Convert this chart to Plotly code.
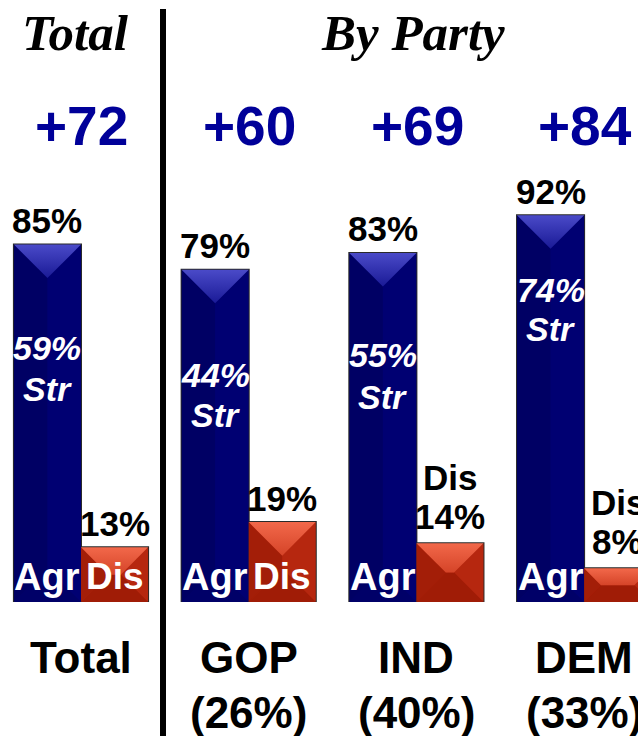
import plotly.graph_objects as go

# ---------------- data ----------------
groups = ["Total", "GOP", "IND", "DEM"]
group_sub = ["", "(26%)", "(40%)", "(33%)"]
agree = [85, 79, 83, 92]
disagree = [13, 19, 14, 8]
strong = [59, 44, 55, 74]
net = [72, 60, 69, 84]
headers = ["Total", "By Party"]

# ---------------- layout constants ----------------
W, H = 638, 736
BASE_PX = 602            # pixel row of the bar baseline
PX_X = 167.7             # pixels per group unit
PX_Y = 4.205             # pixels per percent
X0 = -81 / PX_X
X1 = X0 + W / PX_X
Y1 = BASE_PX / PX_Y
HALF = 0.2               # half bar width (group units)
dis_inside = [True, True, False, False]
str_label_px = [(347.5, 388.5), (375, 415), (355, 397), (289.5, 328.5)]

SANS = "Liberation Sans, Arial, sans-serif"
SERIF = "Liberation Serif, Times New Roman, serif"


def py_paper(py):
    return (BASE_PX - py) / BASE_PX


def gx_paper(gx):
    return (gx - X0) / (X1 - X0)


fig = go.Figure()

x_agr = [i - HALF for i in range(len(groups))]
x_dis = [i + HALF for i in range(len(groups))]

# flat bar bodies
fig.add_trace(go.Bar(x=x_agr, y=agree, width=2 * HALF, marker=dict(color="#000070", line=dict(width=0)),
                     hoverinfo="skip"))
fig.add_trace(go.Bar(x=x_dis, y=disagree, width=2 * HALF, marker=dict(color="#b0230c", line=dict(width=0)),
                     hoverinfo="skip"))

pal = {
    "blue": dict(top=["#1a1a96", "#4a4ac8"], left="#000064", right="#000072", bottom="#000068"),
    "red": dict(top=["#d54428", "#f2684a"], left="#a31e08", right="#b6270f", bottom="#a01c06"),
}


def bevel(xc, v, colors):
    a_px = HALF * PX_X
    h_px = v * PX_Y
    d_px = min(a_px, h_px / 2)
    d = d_px / PX_Y
    iw = (a_px - d_px) / PX_X
    xl, xr = xc - HALF, xc + HALF
    polys = [
        ("left", [xl, xc - iw, xc - iw, xl, xl], [v, v - d, d, 0, v]),
        ("right", [xr, xc + iw, xc + iw, xr, xr], [v, v - d, d, 0, v]),
        ("bottom", [xl, xr, xc + iw, xc - iw, xl], [0, 0, d, d, 0]),
    ]
    for name, xs, ys in polys:
        fig.add_trace(go.Scatter(x=xs, y=ys, fill="toself", fillcolor=colors[name], mode="lines",
                                 line=dict(width=0), hoverinfo="skip"))
    fig.add_trace(go.Scatter(x=[xl, xr, xc + iw, xc - iw, xl], y=[v, v, v - d, v - d, v], fill="toself",
                             fillgradient=dict(type="vertical",
                                               colorscale=[[0, colors["top"][0]], [1, colors["top"][1]]]),
                             mode="lines", line=dict(width=0), hoverinfo="skip"))


for i in range(len(groups)):
    bevel(x_agr[i], agree[i], pal["blue"])
    bevel(x_dis[i], disagree[i], pal["red"])

# outlines
fig.add_trace(go.Bar(x=x_agr, y=agree, width=2 * HALF,
                     marker=dict(color="rgba(0,0,0,0)", line=dict(width=2, color="#2a2a2a")), hoverinfo="skip"))
fig.add_trace(go.Bar(x=x_dis, y=disagree, width=2 * HALF,
                     marker=dict(color="rgba(0,0,0,0)", line=dict(width=2, color="#2a2a2a")), hoverinfo="skip"))

ann = []
# headers
ann.append(dict(x=75.5 / W, y=py_paper(33), xref="paper", yref="paper", text="<b><i>%s</i></b>" % headers[0],
                font=dict(family=SERIF, size=51, color="black")))
ann.append(dict(x=412.5 / W, y=py_paper(33), xref="paper", yref="paper", text="<b><i>%s</i></b>" % headers[1],
                font=dict(family=SERIF, size=51, color="black")))

for i in range(len(groups)):
    # net
    ann.append(dict(x=i + 0.005, y=(BASE_PX - 125.5) / PX_Y, text="<b>+%d</b>" % net[i],
                    font=dict(family=SANS, size=55, color="#000099")))
    # agree value
    ann.append(dict(x=x_agr[i], y=agree[i] + 24 / PX_Y, text="<b>%d%%</b>" % agree[i],
                    font=dict(family=SANS, size=35, color="black")))
    # disagree value
    if dis_inside[i]:
        ann.append(dict(x=x_dis[i], y=disagree[i] + 24 / PX_Y, text="<b>%d%%</b>" % disagree[i],
                        font=dict(family=SANS, size=35, color="black")))
        ann.append(dict(x=x_dis[i], y=(BASE_PX - 576.5) / PX_Y, text="<b>Dis</b>",
                        font=dict(family=SANS, size=37, color="white")))
    else:
        ann.append(dict(x=x_dis[i], y=disagree[i] + 27 / PX_Y, text="<b>%d%%</b>" % disagree[i],
                        font=dict(family=SANS, size=35, color="black")))
        ann.append(dict(x=x_dis[i], y=disagree[i] + 66 / PX_Y, text="<b>Dis</b>",
                        font=dict(family=SANS, size=35, color="black")))
    # inside Agr
    ann.append(dict(x=x_agr[i], y=(BASE_PX - 576.5) / PX_Y, text="<b>Agr</b>",
                    font=dict(family=SANS, size=38, color="white")))
    # strong
    p1, p2 = str_label_px[i]
    ann.append(dict(x=x_agr[i], y=(BASE_PX - p1) / PX_Y, text="<b><i>%d%%</i></b>" % strong[i],
                    font=dict(family=SANS, size=34, color="white")))
    ann.append(dict(x=x_agr[i], y=(BASE_PX - p2) / PX_Y, text="<b><i>Str</i></b>",
                    font=dict(family=SANS, size=34, color="white")))
    # category labels (paper refs: below the plot area)
    ann.append(dict(x=gx_paper(i), y=py_paper(657), xref="paper", yref="paper", text="<b>%s</b>" % groups[i],
                    font=dict(family=SANS, size=44, color="black")))
    if group_sub[i]:
        ann.append(dict(x=gx_paper(i), y=py_paper(712), xref="paper", yref="paper",
                        text="<b>%s</b>" % group_sub[i],
                        font=dict(family=SANS, size=44, color="black")))

for a in ann:
    a.update(showarrow=False, xanchor="center", yanchor="middle")

fig.update_layout(
    width=W, height=H,
    margin=dict(l=0, r=0, t=0, b=H - BASE_PX, pad=0),
    paper_bgcolor="white", plot_bgcolor="white",
    barmode="overlay", showlegend=False,
    xaxis=dict(range=[X0, X1], visible=False, fixedrange=True),
    yaxis=dict(range=[0, Y1], visible=False, fixedrange=True),
    annotations=ann,
    shapes=[dict(type="line", xref="paper", yref="paper", x0=163 / W, x1=163 / W,
                 y0=py_paper(9), y1=py_paper(740), line=dict(color="black", width=6))],
)

fig.write_html("out.html", config={"displayModeBar": False},
               post_script="document.body.style.margin='0';document.body.style.overflow='hidden';")
